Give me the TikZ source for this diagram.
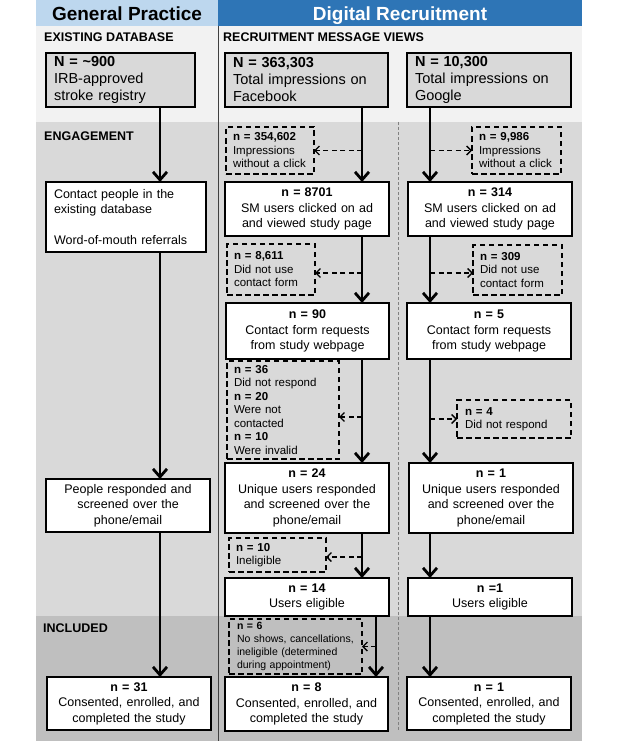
\documentclass[tikz,border=0pt]{standalone}
\usepackage{fontspec}
\setmainfont{Liberation Sans}
\usepackage{xcolor}
\usetikzlibrary{arrows.meta}

\definecolor{gpblue}{HTML}{BDD7EE}
\definecolor{drblue}{HTML}{2E75B6}
\definecolor{secone}{HTML}{F2F2F2}
\definecolor{sectwo}{HTML}{D9D9D9}
\definecolor{secthree}{HTML}{BFBFBF}

\tikzset{
  basebox/.style={inner sep=0pt, outer sep=0pt, anchor=north west, line width=1.4pt},
  topbox/.style={basebox, draw, fill=sectwo, align=left, font=\fontsize{14.5}{17}\selectfont},
  whitebox/.style={basebox, draw, fill=white, align=center, font=\fontsize{12.5}{15.5}\selectfont},
  dashbox/.style={basebox, draw, dash pattern=on 5.5pt off 3.5pt, align=left, font=\fontsize{11.5}{13.5}\selectfont},
  seclabel/.style={anchor=base west, inner sep=0pt, font=\fontsize{12.5}{15}\selectfont\bfseries},
  headlabel/.style={anchor=base, inner sep=0pt, font=\fontsize{19}{22}\selectfont\bfseries},
  mainarr/.style={line width=2.8pt, -{Straight Barb[length=8pt,width=14pt]}},
  sidearr/.style={line width=1.3pt, dash pattern=on 5pt off 3.5pt, -{Straight Barb[length=4.5pt,width=9pt]}},
}

\begin{document}
\begin{tikzpicture}[x=1pt,y=-1pt]
\useasboundingbox (0,0) rectangle (618,741);

% backgrounds
\fill[secone] (36,26) rectangle (582,122);
\fill[sectwo] (36,122) rectangle (582,616);
\fill[secthree] (36,616) rectangle (582,741);
\fill[gpblue] (36,0) rectangle (218,26);
\fill[drblue] (218,0) rectangle (582,26);
\draw[line width=1pt, black!75] (218,26) -- (218,741);
\draw[line width=0.6pt, black!50, dash pattern=on 3pt off 2pt] (398,122) -- (398,730);

\node (gphead) at (127,21)[headlabel]{General Practice};
\node (drhead) at (400,21)[headlabel, text=white]{Digital Recruitment};

\node (lexist) at (44,42)[seclabel]{EXISTING DATABASE};
\node (lviews) at (223,42)[seclabel]{RECRUITMENT MESSAGE VIEWS};
\node (lengage) at (44,140)[seclabel]{ENGAGEMENT};
\node (lincl) at (43,632)[seclabel]{INCLUDED};

% general practice
\begin{scope}
\coordinate (gpx) at (160,0);
\node (gpone) at (46,53)[topbox, minimum width=149pt, minimum height=54pt, text width=133pt]{\textbf{N = \textasciitilde900}\\IRB-approved\\stroke registry};
\node (gptwo) at (46,182)[whitebox, align=left, minimum width=160pt, minimum height=70pt, text width=144pt]{Contact people in the\\existing database\\[15.5pt]Word-of-mouth referrals};
\node (gpthree) at (46,479)[whitebox, minimum width=164pt, minimum height=53pt, text width=150pt]{People responded and\\screened over the\\phone/email};
\node (gpfour) at (47,677)[whitebox, minimum width=164pt, minimum height=53pt, text width=150pt]{\textbf{n = 31}\\Consented, enrolled, and\\completed the study};
\draw[mainarr] (gpone.south -| gpx) -- (gptwo.north -| gpx);
\draw[mainarr] (gptwo.south -| gpx) -- (gpthree.north -| gpx);
\draw[mainarr] (gpthree.south -| gpx) -- (gpfour.north -| gpx);
\end{scope}

% facebook
\begin{scope}
\coordinate (fbx) at (362,0);
\coordinate (fbxlow) at (376,0);
\node (fbone) at (225,53)[topbox, minimum width=163pt, minimum height=54pt, text width=147pt]{\textbf{N = 363,303}\\Total impressions on\\Facebook};
\node (fbxone) at (226,127)[dashbox, minimum width=88pt, minimum height=47pt, text width=74pt]{\textbf{n = 354,602}\\Impressions\\without a click};
\node (fbtwo) at (225,182)[whitebox, minimum width=164pt, minimum height=54pt, text width=150pt]{\textbf{n = 8701}\\SM users clicked on ad\\and viewed study page};
\node (fbxtwo) at (227,244)[dashbox, minimum width=88pt, minimum height=51pt, text width=74pt]{\textbf{n = 8,611}\\Did not use\\contact form};
\node (fbthree) at (226,303)[whitebox, minimum width=163pt, minimum height=56pt, text width=150pt]{\textbf{n = 90}\\Contact form requests\\from study webpage};
\node (fbxthree) at (227,361)[dashbox, minimum width=112pt, minimum height=98pt, text width=98pt]{\textbf{n = 36}\\Did not respond\\\textbf{n = 20}\\Were not\\contacted\\\textbf{n = 10}\\Were invalid};
\node (fbfour) at (225,463)[whitebox, minimum width=164pt, minimum height=70pt, text width=150pt]{\textbf{n = 24}\\Unique users responded\\and screened over the\\phone/email};
\node (fbxfour) at (229,538)[dashbox, minimum width=97pt, minimum height=34pt, text width=83pt]{\textbf{n = 10}\\Ineligible};
\node (fbfive) at (225,578)[whitebox, minimum width=164pt, minimum height=38pt, text width=150pt]{\textbf{n = 14}\\Users eligible};
\node (fbxfive) at (229,619)[dashbox, minimum width=133pt, minimum height=55pt, text width=117pt, font=\fontsize{10.5}{13}\selectfont]{\textbf{n = 6}\\No shows, cancellations,\\ineligible (determined\\during appointment)};
\node (fbsix) at (225,677)[whitebox, minimum width=163pt, minimum height=54pt, text width=150pt]{\textbf{n = 8}\\Consented, enrolled, and\\completed the study};
\draw[mainarr] (fbone.south -| fbx) -- (fbtwo.north -| fbx);
\draw[mainarr] (fbtwo.south -| fbx) -- (fbthree.north -| fbx);
\draw[mainarr] (fbthree.south -| fbx) -- (fbfour.north -| fbx);
\draw[mainarr] (fbfour.south -| fbx) -- (fbfive.north -| fbx);
\draw[mainarr] (fbfive.south -| fbxlow) -- (fbsix.north -| fbxlow);
\draw[sidearr] (fbxone.east -| fbx) -- (fbxone.east);
\draw[sidearr, transform canvas={yshift=-3.5pt}] (fbxtwo.east -| fbx) -- (fbxtwo.east);
\draw[sidearr, transform canvas={yshift=-7pt}] (fbxthree.east -| fbx) -- (fbxthree.east);
\draw[sidearr, transform canvas={yshift=-2pt}] (fbxfour.east -| fbx) -- (fbxfour.east);
\draw[sidearr] (fbxfive.east -| fbxlow) -- (fbxfive.east);
\end{scope}

% google
\begin{scope}
\coordinate (gx) at (430,0);
\node (gone) at (407,53)[topbox, minimum width=164pt, minimum height=54pt, text width=148pt]{\textbf{N = 10,300}\\Total impressions on\\Google};
\node (gxone) at (472,127)[dashbox, minimum width=89pt, minimum height=47pt, text width=75pt]{\textbf{n = 9,986}\\Impressions\\without a click};
\node (gtwo) at (408,182)[whitebox, minimum width=164pt, minimum height=54pt, text width=150pt]{\textbf{n = 314}\\SM users clicked on ad\\and viewed study page};
\node (gxtwo) at (473,245)[dashbox, minimum width=89pt, minimum height=50pt, text width=75pt]{\textbf{n = 309}\\Did not use\\contact form};
\node (gthree) at (407,303)[whitebox, minimum width=164pt, minimum height=56pt, text width=150pt]{\textbf{n = 5}\\Contact form requests\\from study webpage};
\node (gxthree) at (457,400)[dashbox, minimum width=114pt, minimum height=38pt, text width=98pt]{\textbf{n = 4}\\Did not respond};
\node (gfour) at (409,463)[whitebox, minimum width=164pt, minimum height=70pt, text width=150pt]{\textbf{n = 1}\\Unique users responded\\and screened over the\\phone/email};
\node (gfive) at (408,578)[whitebox, minimum width=164pt, minimum height=38pt, text width=150pt]{\textbf{n =1}\\Users eligible};
\node (gsix) at (407,677)[whitebox, minimum width=164pt, minimum height=53pt, text width=150pt]{\textbf{n = 1}\\Consented, enrolled, and\\completed the study};
\draw[mainarr] (gone.south -| gx) -- (gtwo.north -| gx);
\draw[mainarr] (gtwo.south -| gx) -- (gthree.north -| gx);
\draw[mainarr] (gthree.south -| gx) -- (gfour.north -| gx);
\draw[mainarr] (gfour.south -| gx) -- (gfive.north -| gx);
\draw[mainarr] (gfive.south -| gx) -- (gsix.north -| gx);
\draw[sidearr] (gxone.west -| gx) -- (gxone.west);
\draw[sidearr, transform canvas={yshift=-3pt}] (gxtwo.west -| gx) -- (gxtwo.west);
\draw[sidearr] (gxthree.west -| gx) -- (gxthree.west);
\end{scope}
\end{tikzpicture}
\end{document}
